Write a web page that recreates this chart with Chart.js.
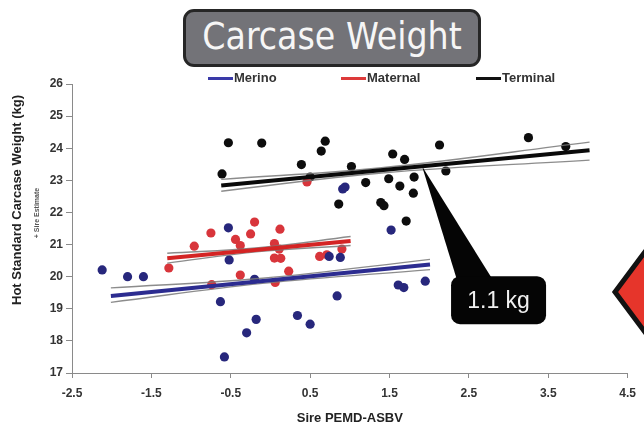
<!DOCTYPE html>
<html>
<head>
<meta charset="utf-8">
<script src="https://cdn.jsdelivr.net/npm/chart.js@4.4.1/dist/chart.umd.min.js"></script>
<style>
  html, body { margin: 0; padding: 0; background: #fff; }
  #wrap { position: relative; width: 644px; height: 426px; overflow: hidden; background: #fff; }
  #chart { position: absolute; left: 0; top: 0; }
  #title {
    position: absolute; left: 183px; top: 9px; width: 298px; height: 58px;
    box-sizing: border-box; background: #737378; border: 3px solid #262626; border-radius: 11px;
    color: #f6f6f6; font-family: "DejaVu Sans Condensed", "DejaVu Sans", sans-serif; font-stretch: condensed;
    font-size: 37px; line-height: 50px; text-align: center; white-space: nowrap;
  }
  .leg { position: absolute; top: 71px; height: 14px; font: bold 13px "Liberation Sans", Arial, sans-serif; color: #333; line-height: 14px; white-space: nowrap; }
  .leg i { position: absolute; left: 0; top: 6px; width: 25px; height: 3px; }
  .leg span { position: absolute; left: 26px; top: 0; }
  #sign { position: absolute; left: 0; top: 0; pointer-events: none; }
</style>
</head>
<body>
<div id="wrap">
  <canvas id="chart" width="644" height="426"></canvas>
  <div id="title">Carcase Weight</div>
  <div id="legend"></div>
  <svg id="sign" width="644" height="426"><polygon points="615,292 662,229 709,292 662,355" fill="#e6352b" stroke="#121212" stroke-width="5" stroke-linejoin="miter"/></svg>
</div>
<script>
// Series labels and colours
const SERIES = ['Merino', 'Maternal', 'Terminal'];
const POINT_COLORS = ['#27277c', '#d8353b', '#0d0d0d'];
const LINE_COLORS = ['#2c2c90', '#d42424', '#0a0a0a'];
const LEGEND_COLORS = ['#3a3aa8', '#dd3a3a', '#111111'];
const LEGEND_LEFT = [208, 341, 476];

// Tick labels and axis captions
const X_TICKS = [-2.5, -1.5, -0.5, 0.5, 1.5, 2.5, 3.5, 4.5];
const Y_MIN = 17, Y_MAX = 26;
const X_TITLE = 'Sire PEMD-ASBV';
const Y_TITLE = 'Hot Standard Carcase Weight (kg)';
const Y_SUBTITLE = '+ Sire Estimate';

// Sire PEMD-ASBV (x) and carcase weight + sire estimate (y)
const MERINO_X = [-2.12, -1.80, -1.60, -0.63, -0.58, -0.53, -0.52, -0.30, -0.18, -0.20, 0.34, 0.50, 0.84, 0.74, 0.88, 0.91, 0.94, 1.52, 1.61, 1.68, 1.95];
const MERINO_Y = [20.21, 20.00, 20.00, 19.22, 17.50, 21.52, 20.52, 18.25, 18.67, 19.92, 18.79, 18.52, 19.40, 20.63, 20.60, 22.73, 22.79, 21.45, 19.74, 19.66, 19.86];

const MATERNAL_X = [-1.28, -0.96, -0.75, -0.74, -0.44, -0.38, -0.25, -0.20, 0.12, 0.05, 0.11, 0.05, 0.13, 0.23, -0.38, 0.06, 0.46, 0.62, 0.71, 0.90];
const MATERNAL_Y = [20.27, 20.95, 21.36, 19.75, 21.16, 20.97, 21.33, 21.70, 21.48, 21.03, 20.86, 20.58, 20.57, 20.17, 20.05, 19.82, 22.95, 20.63, 20.68, 20.86];

const TERMINAL_X = [-0.61, -0.53, -0.11, 0.39, 0.50, 0.64, 0.69, 1.02, 1.20, 0.86, 1.39, 1.43, 1.49, 1.54, 1.63, 1.69, 1.71, 1.81, 1.80, 2.13, 2.21, 3.25, 3.72];
const TERMINAL_Y = [23.20, 24.17, 24.16, 23.49, 23.10, 23.91, 24.22, 23.43, 22.93, 22.26, 22.31, 22.21, 23.05, 23.82, 22.82, 23.65, 21.73, 23.10, 22.60, 24.10, 23.29, 24.33, 24.05];

// Fitted lines (ends) and their confidence bands (start, middle, end)
const MERINO_FIT_X = [-2.01, 2.01], MERINO_FIT_Y = [19.40, 20.38];
const MERINO_BAND_X = [-2.01, -0.10, 2.01];
const MERINO_UPPER = [19.65, 19.95, 20.54], MERINO_LOWER = [19.20, 19.79, 20.22];

const MATERNAL_FIT_X = [-1.30, 1.01], MATERNAL_FIT_Y = [20.57, 21.11];
const MATERNAL_BAND_X = [-1.30, -0.15, 1.01];
const MATERNAL_UPPER = [20.73, 20.90, 21.25], MATERNAL_LOWER = [20.42, 20.78, 20.97];

const TERMINAL_FIT_X = [-0.62, 4.02], TERMINAL_FIT_Y = [22.84, 23.94];
const TERMINAL_BAND_X = [-0.62, 1.40, 4.02];
const TERMINAL_UPPER = [23.03, 23.39, 24.19], TERMINAL_LOWER = [22.66, 23.23, 23.63];

// Callout on the terminal line
const CALLOUT_X = 1.91;
const CALLOUT_TEXT = '1.1 kg';

const zip = (xs, ys) => xs.map((x, i) => ({ x, y: ys[i] }));

const points = [[MERINO_X, MERINO_Y], [MATERNAL_X, MATERNAL_Y], [TERMINAL_X, TERMINAL_Y]];
const fits = [[MERINO_FIT_X, MERINO_FIT_Y], [MATERNAL_FIT_X, MATERNAL_FIT_Y], [TERMINAL_FIT_X, TERMINAL_FIT_Y]];
const bands = [
  [MERINO_BAND_X, MERINO_UPPER, MERINO_LOWER],
  [MATERNAL_BAND_X, MATERNAL_UPPER, MATERNAL_LOWER],
  [TERMINAL_BAND_X, TERMINAL_UPPER, TERMINAL_LOWER]
];

const datasets = [];
SERIES.forEach((name, i) => {
  datasets.push({
    label: name, data: zip(fits[i][0], fits[i][1]), showLine: true,
    borderColor: LINE_COLORS[i], borderWidth: 4, pointRadius: 0, order: 0
  });
  const [bx, up, lo] = bands[i];
  [up, lo].forEach(b => datasets.push({
    label: name + ' band', data: zip(bx, b), showLine: true, tension: 0.4,
    borderColor: 'rgba(120,120,120,0.85)', borderWidth: 1.4, pointRadius: 0, order: 1
  }));
  datasets.push({
    label: name + ' sires', data: zip(points[i][0], points[i][1]),
    backgroundColor: POINT_COLORS[i], borderColor: POINT_COLORS[i], borderWidth: 0,
    pointRadius: 4.6, order: 2
  });
});

// Legend
const legend = document.getElementById('legend');
SERIES.forEach((name, i) => {
  const d = document.createElement('div');
  d.className = 'leg';
  d.style.left = LEGEND_LEFT[i] + 'px';
  d.innerHTML = '<i style="background:' + LEGEND_COLORS[i] + '"></i><span>' + name + '</span>';
  legend.appendChild(d);
});

const lineAt = (fx, fy, x) => fy[0] + (fy[1] - fy[0]) * (x - fx[0]) / (fx[1] - fx[0]);

const extras = {
  id: 'extras',
  afterDraw(chart) {
    const { ctx, scales: { x, y } } = chart;
    // vertical axis caption, sitting a little above the axis centre
    ctx.save();
    ctx.translate(17, 200);
    ctx.rotate(-Math.PI / 2);
    ctx.font = 'bold 13px "Liberation Sans", Arial, sans-serif';
    ctx.fillStyle = '#222';
    ctx.textAlign = 'center';
    ctx.textBaseline = 'middle';
    ctx.fillText(Y_TITLE, 0, 0);
    ctx.restore();

    // small secondary caption
    ctx.save();
    ctx.translate(37, 213);
    ctx.rotate(-Math.PI / 2);
    ctx.font = 'bold 7px "Liberation Sans", Arial, sans-serif';
    ctx.fillStyle = '#555';
    ctx.textAlign = 'center';
    ctx.textBaseline = 'middle';
    ctx.fillText(Y_SUBTITLE, 0, 0);
    ctx.restore();

    // callout pointing at the terminal line
    const ax = x.getPixelForValue(CALLOUT_X);
    const ay = y.getPixelForValue(lineAt(TERMINAL_FIT_X, TERMINAL_FIT_Y, CALLOUT_X));
    const bl = ax + 29, bt = ay + 110, bw = 95, bh = 48, r = 9;
    ctx.save();
    ctx.fillStyle = '#050505';
    ctx.beginPath();
    ctx.moveTo(ax, ay);
    ctx.lineTo(ax + 35, bt + 4);
    ctx.lineTo(ax + 71, bt + 4);
    ctx.closePath();
    ctx.fill();
    ctx.beginPath();
    ctx.roundRect(bl, bt, bw, bh, r);
    ctx.fill();
    ctx.fillStyle = '#f0f0f0';
    ctx.font = '23px "Liberation Sans", Arial, sans-serif';
    ctx.textAlign = 'center';
    ctx.textBaseline = 'middle';
    ctx.fillText(CALLOUT_TEXT, bl + bw / 2, bt + bh / 2 + 1);
    ctx.restore();
  }
};

const tickFont = { family: '"Liberation Sans", Arial, sans-serif', size: 12, weight: 'bold' };
const titleFont = { family: '"Liberation Sans", Arial, sans-serif', size: 13, weight: 'bold' };

new Chart(document.getElementById('chart'), {
  type: 'scatter',
  data: { datasets },
  options: {
    responsive: false,
    animation: false,
    layout: { padding: { top: 84, right: 14, left: 0, bottom: 0 } },
    plugins: { legend: { display: false }, tooltip: { enabled: false } },
    scales: {
      x: {
        type: 'linear', min: X_TICKS[0], max: X_TICKS[X_TICKS.length - 1],
        afterBuildTicks(s) { s.ticks = X_TICKS.map(v => ({ value: v })); },
        afterFit(s) { s.height = 53; },
        grid: { drawOnChartArea: false, tickLength: 5, color: '#8a8a8a' },
        border: { color: '#8a8a8a', width: 1 },
        ticks: { font: tickFont, color: '#333', padding: 8, maxRotation: 0, callback: v => Number(v).toFixed(1) },
        title: { display: true, text: X_TITLE, font: titleFont, color: '#222', padding: { top: 0, bottom: 0 } }
      },
      y: {
        type: 'linear', min: Y_MIN, max: Y_MAX,
        afterFit(s) { s.width = 72; },
        grid: { drawOnChartArea: false, tickLength: 6, color: '#8a8a8a' },
        border: { color: '#8a8a8a', width: 1 },
        ticks: { stepSize: 1, font: tickFont, color: '#333', padding: 3 },
        title: { display: false }
      }
    }
  },
  plugins: [extras]
});
</script>
</body>
</html>
